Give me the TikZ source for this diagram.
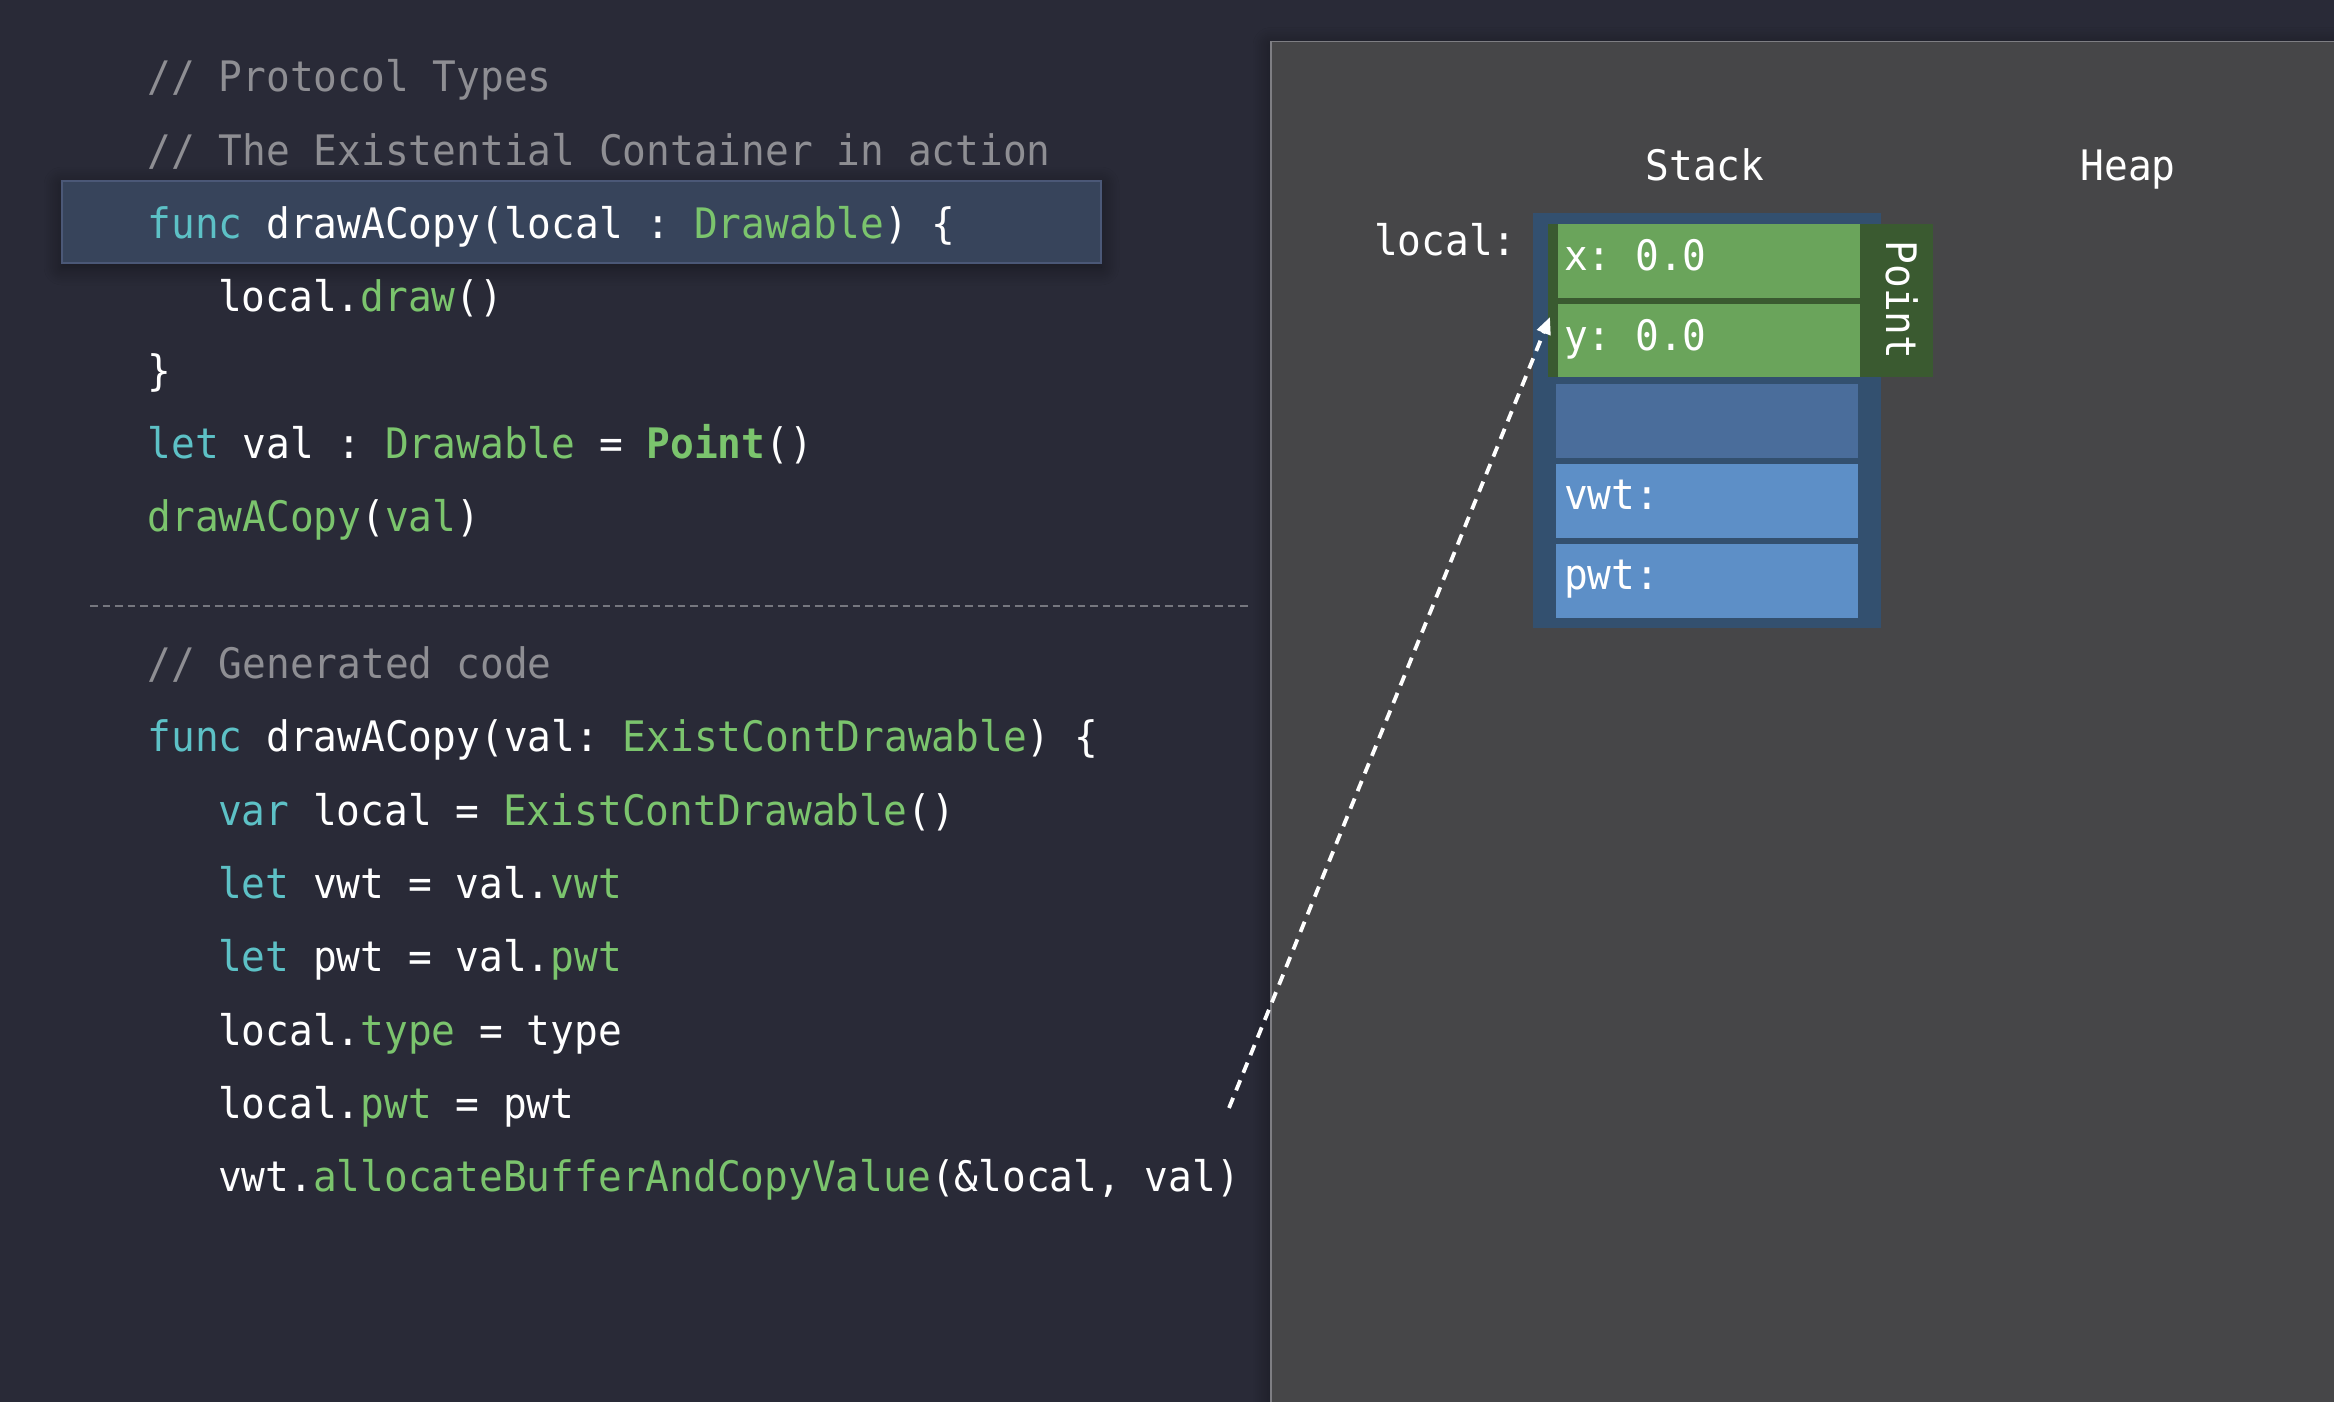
\documentclass[tikz,border=0pt]{standalone}
\usepackage{fontspec}
\usetikzlibrary{arrows.meta,shadows.blur}
\newfontfamily\codefont[FakeStretch=0.94]{DejaVu Sans Mono}
\newcommand\cf{\codefont\fontsize{42}{50}\selectfont\frenchspacing}
\definecolor{bgc}{HTML}{292A37}
\definecolor{cmt}{HTML}{8E8E93}
\definecolor{kw}{HTML}{5DC1C6}
\definecolor{gr}{HTML}{7BC46D}
\definecolor{hlfill}{HTML}{37445B}
\definecolor{hlborder}{HTML}{4B5877}
\definecolor{panel}{HTML}{464648}
\definecolor{panelborder}{HTML}{7E7E83}
\definecolor{outerblue}{HTML}{33506F}
\definecolor{slotblue}{HTML}{4A6D9B}
\definecolor{ltblue}{HTML}{5D8FC7}
\definecolor{fgreen}{HTML}{6AA45B}
\definecolor{dkgreen}{HTML}{3A5A30}
\definecolor{sepgray}{HTML}{76777F}
\newcommand\K[1]{\textcolor{kw}{#1}}
\newcommand\G[1]{\textcolor{gr}{#1}}
\begin{document}
\begin{tikzpicture}[x=1pt,y=-1pt,
  code/.style={anchor=base west, inner sep=0pt, outer sep=0pt, text=white, font=\cf},
  comment/.style={code, text=cmt},
  label/.style={code, anchor=base},
  sepline/.style={draw=sepgray, line width=2.8pt, dash pattern=on 7.5pt off 5pt},
  arrowline/.style={draw=white, line width=3.8pt, dash pattern=on 11pt off 8pt, -{Triangle[length=17pt,width=14pt]}},
  softshadow/.style={blur shadow={shadow xshift=0pt, shadow yshift=-4pt, shadow blur radius=18pt, shadow opacity=45, shadow blur steps=12}}
]
\useasboundingbox (0,0) rectangle (2334,1402);
\fill[bgc] (0,0) rectangle (2334,1402);

% highlight bar
\fill[hlfill, draw=hlborder, line width=1.5pt, softshadow] (62,181) rectangle (1101,263);

% code, top part
\node[comment] (l1) at (147.5,91.7) {// Protocol Types};
\node[comment] (l2) at (147.5,165) {// The Existential Container in action};
\node[code] (l3) at (147.5,238.3) {\K{func} drawACopy(local : \G{Drawable}) \{};
\node[code] (l4) at (218,311.7) {local.\G{draw}()};
\node[code] (l5) at (147.5,385) {\}};
\node[code] (l6) at (147.5,458.3) {\K{let} val : \G{Drawable} = \G{\bfseries Point}()};
\node[code] (l7) at (147.5,531.7) {\G{drawACopy}(\G{val})};

% separator
\coordinate (sepa) at (90,606);
\coordinate (sepb) at (1251,606);
\draw[sepline] (sepa) -- (sepb);

% generated code
\node[comment] (l8) at (147.5,678.3) {// Generated code};
\node[code] (l9) at (147.5,751.7) {\K{func} drawACopy(val: \G{ExistContDrawable}) \{};
\node[code] (l10) at (218,825) {\K{var} local = \G{ExistContDrawable}()};
\node[code] (l11) at (218,898.3) {\K{let} vwt = val.\G{vwt}};
\node[code] (l12) at (218,971.7) {\K{let} pwt = val.\G{pwt}};
\node[code] (l13) at (218,1045) {local.\G{type} = type};
\node[code] (l14) at (218,1118.3) {local.\G{pwt} = pwt};
\node[code] (l15) at (218,1191.7) {vwt.\G{allocateBufferAndCopyValue}(\&local, val)};

% memory panel
\fill[panel, draw=panelborder, line width=1.8pt, softshadow] (1271,41.5) rectangle (2345,1412);
\node[label] (stack) at (1705,180) {Stack};
\node[label] (heap) at (2128,180) {Heap};
\node[code] (local) at (1374,255) {local:};

\fill[outerblue] (1533,213) rectangle (1881,628);
\fill[dkgreen] (1548,224) rectangle (1933,377);
\fill[fgreen] (1558,224) rectangle (1860,298);
\fill[fgreen] (1558,304) rectangle (1860,377);
\fill[slotblue] (1556,384) rectangle (1858,458);
\fill[ltblue] (1556,464) rectangle (1858,538);
\fill[ltblue] (1556,544) rectangle (1858,618);

\node[code] (xval) at (1564,270) {x: 0.0};
\node[code] (yval) at (1564,350) {y: 0.0};
\node[code] (vwt) at (1564,509.3) {vwt:};
\node[code] (pwt) at (1564,589.3) {pwt:};
\node[code, anchor=center, rotate=-90] (point) at (1902,300) {Point};

% arrow
\coordinate (src) at (1229,1108);
\coordinate (tip) at (1550,317);
\draw[arrowline] (src) -- (tip);
\end{tikzpicture}
\end{document}
